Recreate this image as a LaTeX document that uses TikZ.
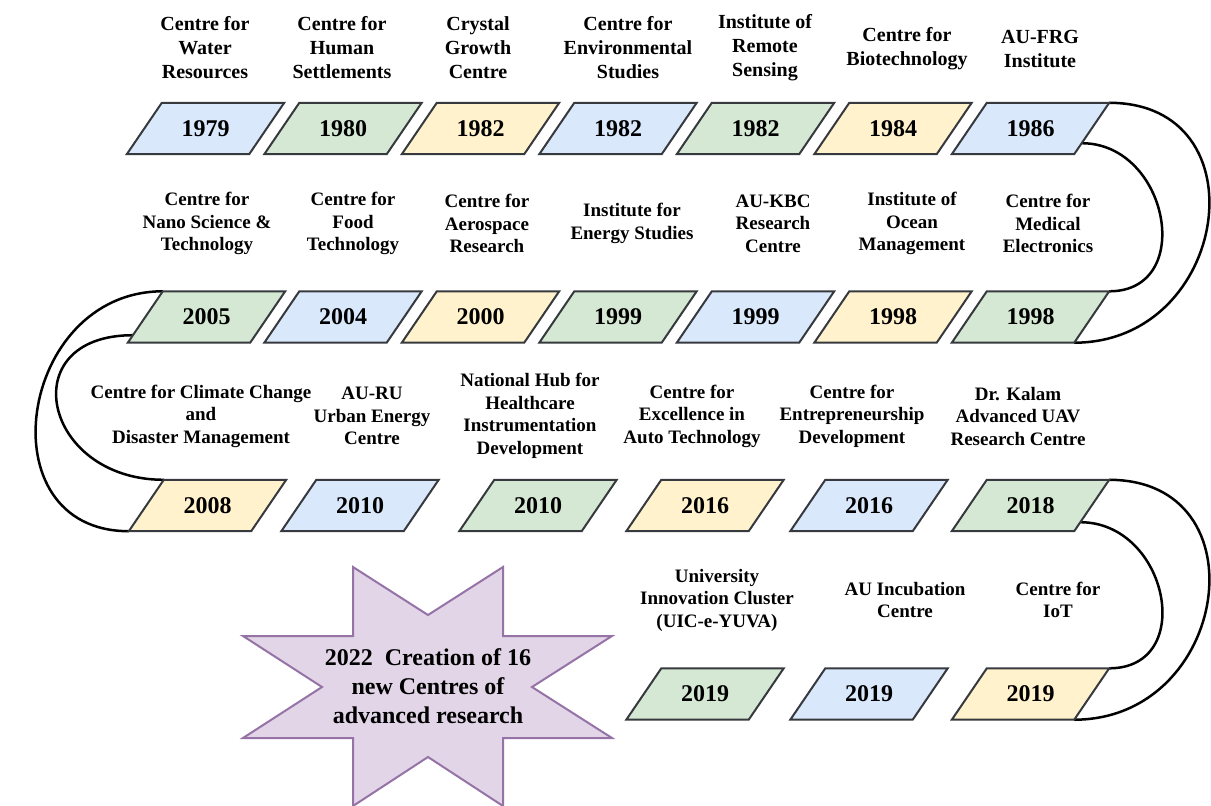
\documentclass[tikz,border=0pt]{standalone}
\usepackage{fontspec}
\setmainfont{Liberation Serif}[BoldFont={Liberation Serif Bold}]
\usetikzlibrary{calc,backgrounds}
\definecolor{cblue}{HTML}{DAE8FC}
\definecolor{cgreen}{HTML}{D5E8D4}
\definecolor{cyellow}{HTML}{FFF2CC}
\definecolor{boxline}{HTML}{36393D}
\definecolor{starfill}{HTML}{E1D5E7}
\definecolor{starline}{HTML}{9673A6}
\tikzset{
  yearbox/.style={rectangle, minimum width=157pt, minimum height=51pt, inner sep=0pt,
    font=\fontsize{24}{28}\selectfont\bfseries},
  lbl/.style={align=center, inner sep=0pt, font=\fontsize{19}{22.5}\selectfont\bfseries},
  lbltop/.style={align=center, inner sep=0pt, font=\fontsize{20}{24}\selectfont\bfseries},
  para/.style={line width=2pt, draw=boxline, line join=miter},
  band/.style={line width=2.5pt, draw=black},
  startext/.style={align=center, inner sep=0pt, font=\fontsize{24}{29}\selectfont\bfseries},
}
\newcommand\parabox[2]{\filldraw[para, fill=#2] (#1.south west) -- ($(#1.south east)+(-35,0)$) -- (#1.north east) -- ($(#1.north west)+(35,0)$) -- cycle;}
\begin{document}
\begin{tikzpicture}[x=1pt,y=-1pt]
\useasboundingbox (0,0) rectangle (1211,806);
% row 1
\node[yearbox] (a1) at (205.5,128.5) {1979};
\node[yearbox] (a2) at (343,128.5) {1980};
\node[yearbox] (a3) at (480.5,128.5) {1982};
\node[yearbox] (a4) at (618,128.5) {1982};
\node[yearbox] (a5) at (755.5,128.5) {1982};
\node[yearbox] (a6) at (893,128.5) {1984};
\node[yearbox] (a7) at (1030.5,128.5) {1986};
\node[lbltop] (la1) at (205,48) {Centre for\\Water\\Resources};
\node[lbltop] (la2) at (342,48) {Centre for\\Human\\Settlements};
\node[lbltop] (la3) at (478,48) {Crystal\\Growth\\Centre};
\node[lbltop] (la4) at (628,48) {Centre for\\Environmental\\Studies};
\node[lbltop] (la5) at (765,48) {Institute of\\Remote\\Sensing};
\node[lbltop] (la6) at (907,49) {Centre for\\Biotechnology};
\node[lbltop] (la7) at (1040,49) {AU-FRG\\Institute};
% row 2
\node[yearbox] (b1) at (206.5,317) {2005};
\node[yearbox] (b2) at (343,317) {2004};
\node[yearbox] (b3) at (480.5,317) {2000};
\node[yearbox] (b4) at (618,317) {1999};
\node[yearbox] (b5) at (755.5,317) {1999};
\node[yearbox] (b6) at (893,317) {1998};
\node[yearbox] (b7) at (1030.5,317) {1998};
\node[lbl] (lb1) at (207,223.5) {Centre for\\Nano Science \&\\Technology};
\node[lbl] (lb2) at (353,223.5) {Centre for\\Food\\Technology};
\node[lbl] (lb3) at (487,223.5) {Centre for\\Aerospace\\Research};
\node[lbl] (lb4) at (632,223.5) {Institute for\\Energy Studies};
\node[lbl] (lb5) at (773,223.5) {AU-KBC\\Research\\Centre};
\node[lbl] (lb6) at (912,223.5) {Institute of\\Ocean\\Management};
\node[lbl] (lb7) at (1048,223.5) {Centre for\\Medical\\Electronics};
% row 3
\node[yearbox] (c1) at (207.5,505.5) {2008};
\node[yearbox] (c2) at (360,505.5) {2010};
\node[yearbox] (c3) at (538,505.5) {2010};
\node[yearbox] (c4) at (705,505.5) {2016};
\node[yearbox] (c5) at (869,505.5) {2016};
\node[yearbox] (c6) at (1030.5,505.5) {2018};
\node[lbl] (lc1) at (201,416) {Centre for Climate Change\\and\\Disaster Management};
\node[lbl] (lc2) at (372,416) {AU-RU\\Urban Energy\\Centre};
\node[lbl] (lc3) at (530,416) {National Hub for\\Healthcare\\Instrumentation\\Development};
\node[lbl] (lc4) at (692,416) {Centre for\\Excellence in\\Auto Technology};
\node[lbl] (lc5) at (852,416) {Centre for\\Entrepreneurship\\Development};
\node[lbl] (lc6) at (1018,416) {Dr. Kalam\\Advanced UAV\\Research Centre};
% row 4
\node[yearbox] (d1) at (705,694) {2019};
\node[yearbox] (d2) at (869,694) {2019};
\node[yearbox] (d3) at (1030.5,694) {2019};
\node[lbl] (ld1) at (717,600) {University\\Innovation Cluster\\(UIC-e-YUVA)};
\node[lbl] (ld2) at (905,600) {AU Incubation\\Centre};
\node[lbl] (ld3) at (1058,600) {Centre for\\IoT};
% star
\node[startext] (star) at (428,686) {2022\ \ Creation of 16\\new Centres of\\advanced research};
\begin{pgfonlayer}{background}
  % connecting bands
  \draw[band] (a7.north east) .. controls +(155,0) and +(155,0) .. ($(b7.south east)+(-35,0)$);
  \draw[band] ($(a7.south east)+(-27.5,-11)$) .. controls +(87,0) and +(87,0) .. (b7.north east);
  \draw[band] ($(b1.north west)+(35,0)$) .. controls +(-145,0) and +(-145,0) .. (c1.south west);
  \draw[band] ($(b1.south west)+(5,-7.5)$) .. controls +(-121,0) and +(-121,0) .. ($(c1.north west)+(35,0)$);
  \draw[band] (c6.north east) .. controls +(155,0) and +(155,0) .. ($(d3.south east)+(-35,0)$);
  \draw[band] ($(c6.south east)+(-29,-9)$) .. controls +(88,0) and +(88,0) .. (d3.north east);
  % parallelograms
  \parabox{a1}{cblue}\parabox{a2}{cgreen}\parabox{a3}{cyellow}\parabox{a4}{cblue}
  \parabox{a5}{cgreen}\parabox{a6}{cyellow}\parabox{a7}{cblue}
  \parabox{b1}{cgreen}\parabox{b2}{cblue}\parabox{b3}{cyellow}\parabox{b4}{cgreen}
  \parabox{b5}{cblue}\parabox{b6}{cyellow}\parabox{b7}{cgreen}
  \parabox{c1}{cyellow}\parabox{c2}{cblue}\parabox{c3}{cgreen}\parabox{c4}{cyellow}
  \parabox{c5}{cblue}\parabox{c6}{cgreen}
  \parabox{d1}{cgreen}\parabox{d2}{cblue}\parabox{d3}{cyellow}
  % star
  \filldraw[fill=starfill, draw=starline, line width=2pt, line join=miter]
    (353,567) -- (428,615) -- (503,567) -- (503,636) -- (612,636) -- (532,687)
    -- (612,738) -- (503,738) -- (503,806) -- (428,757) -- (353,806) -- (353,738)
    -- (243,738) -- (322,687) -- (243,636) -- (353,636) -- cycle;
\end{pgfonlayer}
\end{tikzpicture}
\end{document}
